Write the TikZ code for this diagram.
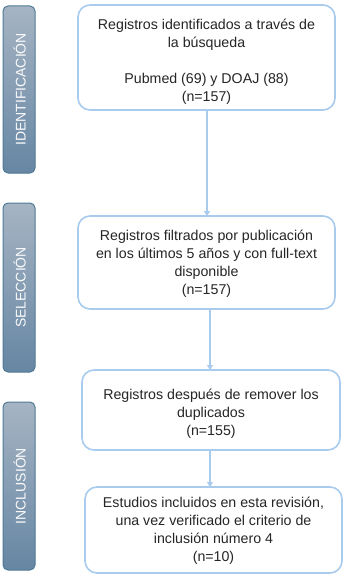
\documentclass[tikz,border=0pt]{standalone}
\usepackage{fontspec}
\setmainfont{Liberation Sans}
\usetikzlibrary{arrows.meta}
\definecolor{boxline}{HTML}{A8CBEE}
\definecolor{bartop}{HTML}{A6B4C3}
\definecolor{barbot}{HTML}{6686A3}
\definecolor{barline}{HTML}{4F7A96}
\begin{document}
\begin{tikzpicture}[x=1pt,y=-1pt,
  stepbox/.style={draw=boxline,line width=1.6pt,rounded corners=12pt,fill=white},
  stagebar/.style={draw=barline,line width=1pt,rounded corners=5pt,top color=bartop,bottom color=barbot},
  stagetext/.style={rotate=90,text=white!95!bartop,font=\fontsize{14}{16}\selectfont},
  boxtext/.style={align=center,font=\fontsize{14.2}{18}\selectfont,text=black!85},
  conn/.style={draw=boxline,line width=1.6pt,-{Triangle[length=5pt,width=6pt]}}]
\useasboundingbox (0,0) rectangle (345,578);
% stage bars
\draw[stagebar] (3,6) rectangle (35,173);
\node[stagetext] (s1) at (19.5,89.5) {IDENTIFICACIÓN};
\draw[stagebar] (3,203) rectangle (35,372);
\node[stagetext] (s2) at (19.5,287.5) {SELECCIÓN};
\draw[stagebar] (3,402) rectangle (35,570);
\node[stagetext] (s3) at (19.5,486) {INCLUSIÓN};
% boxes
\draw[stepbox] (78,5) rectangle (335,110);
\node[boxtext] (b1) at (206.5,62) {Registros identificados a través de\\la búsqueda\\[18pt]Pubmed (69) y DOAJ (88)\\(n=157)};
\coordinate (b1s) at (207,110);
\coordinate (b2n) at (207,216);
\draw[stepbox] (78,216) rectangle (335,309);
\node[boxtext] (b2) at (206.5,263.5) {Registros filtrados por publicación\\en los últimos 5 años y con full-text\\disponible\\(n=157)};
\coordinate (b2s) at (210,309);
\coordinate (b3n) at (210,370);
\draw[stepbox] (82,370) rectangle (340,450);
\node[boxtext] (b3) at (211,413.5) {Registros después de remover los\\duplicados\\(n=155)};
\coordinate (b3s) at (210,450);
\coordinate (b4n) at (210,487);
\draw[stepbox] (85,487) rectangle (342,573);
\node[boxtext] (b4) at (213.5,531) {Estudios incluidos en esta revisión,\\una vez verificado el criterio de\\inclusión número 4\\(n=10)};
% connectors
\draw[conn] (b1s) -- (b2n);
\draw[conn] (b2s) -- (b3n);
\draw[conn] (b3s) -- (b4n);
\end{tikzpicture}
\end{document}
